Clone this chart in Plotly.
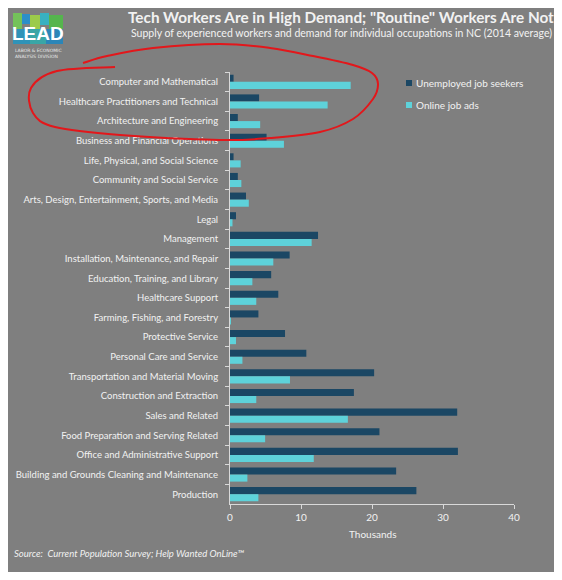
import plotly.graph_objects as go

# Occupation groups, top to bottom as shown in the chart
categories = [
    "Computer and Mathematical",
    "Healthcare Practitioners and Technical",
    "Architecture and Engineering",
    "Business and Financial Operations",
    "Life, Physical, and Social Science",
    "Community and Social Service",
    "Arts, Design, Entertainment, Sports, and Media",
    "Legal",
    "Management",
    "Installation, Maintenance, and Repair",
    "Education, Training, and Library",
    "Healthcare Support",
    "Farming, Fishing, and Forestry",
    "Protective Service",
    "Personal Care and Service",
    "Transportation and Material Moving",
    "Construction and Extraction",
    "Sales and Related",
    "Food Preparation and Serving Related",
    "Office and Administrative Support",
    "Building and Grounds Cleaning and Maintenance",
    "Production",
]

# Thousands (2014 average, NC)
unemployed_job_seekers = [
    0.5, 4.1, 1.1, 5.15, 0.5, 1.1, 2.25, 0.85, 12.4, 8.4, 5.8,
    6.8, 4.0, 7.75, 10.75, 20.3, 17.45, 32.0, 21.05, 32.1, 23.4, 26.25,
]
online_job_ads = [
    17.0, 13.75, 4.25, 7.6, 1.5, 1.6, 2.65, 0.35, 11.5, 6.1, 3.15,
    3.7, 0.05, 0.85, 1.75, 8.45, 3.7, 16.6, 4.95, 11.8, 2.45, 4.0,
]

x_ticks = [0, 10, 20, 30, 40]

DARK = "#1b4764"
LIGHT = "#5ed2da"
PANEL = "#7f7f7f"
TEXT = "#f2f2f2"
FONT = "Lato, 'Open Sans', sans-serif"

# =========================
# PIXEL -> PAPER HELPERS
# =========================
# The page body has an 8px margin, so the figure is a bit smaller than
# the window and every screen position below is given in window pixels.
OFF = 8
W, H = 546, 564
PLOT_X0, PLOT_X1 = 230, 514   # window px of x = 0 and x = 40
PLOT_Y0, PLOT_Y1 = 72, 504    # window px of plot top / bottom
M_L = PLOT_X0 - OFF
M_R = W - (PLOT_X1 - OFF)
M_T = PLOT_Y0 - OFF
M_B = H - (PLOT_Y1 - OFF)
PW = PLOT_X1 - PLOT_X0
PH = PLOT_Y1 - PLOT_Y0


def px(x):
    return (x - PLOT_X0) / PW


def py(y):
    return (PLOT_Y1 - y) / PH


def smooth_path(points):
    # Catmull-Rom through the points, written as cubic beziers
    pts = [(px(x), py(y)) for x, y in points]
    n = len(pts)
    path = f"M {pts[0][0]:.4f},{pts[0][1]:.4f}"
    for i in range(n - 1):
        p0 = pts[i - 1] if i > 0 else pts[i]
        p1 = pts[i]
        p2 = pts[i + 1]
        p3 = pts[i + 2] if i + 2 < n else p2
        c1 = (p1[0] + (p2[0] - p0[0]) / 6, p1[1] + (p2[1] - p0[1]) / 6)
        c2 = (p2[0] - (p3[0] - p1[0]) / 6, p2[1] - (p3[1] - p1[1]) / 6)
        path += (f" C {c1[0]:.4f},{c1[1]:.4f} {c2[0]:.4f},{c2[1]:.4f}"
                 f" {p2[0]:.4f},{p2[1]:.4f}")
    return path


fig = go.Figure()

fig.add_trace(go.Bar(
    y=categories,
    x=unemployed_job_seekers,
    orientation="h",
    name="Unemployed job seekers",
    marker=dict(color=DARK, line=dict(width=0)),
))

fig.add_trace(go.Bar(
    y=categories,
    x=online_job_ads,
    orientation="h",
    name="Online job ads",
    marker=dict(color=LIGHT, line=dict(width=0)),
))

shapes = []

# grey panel behind everything
shapes.append(dict(
    type="rect", xref="paper", yref="paper", layer="below",
    x0=px(6), x1=px(556), y0=py(5), y1=py(578),
    fillcolor=PANEL, line=dict(width=0),
))

# logo blocks
logo_blocks = [
    (13, 13, 22, 29, "#74c25a"),
    (22, 14, 30, 24, "#2b8fc9"),
    (30, 15, 40, 29, "#9ccb4a"),
    (40, 13, 49, 25, "#38b1c1"),
    (49, 15, 63, 29, "#55b54e"),
    (13, 29, 30, 44, "#2f93b8"),
    (30, 29, 46, 44, "#3aa6a6"),
    (46, 29, 63, 44, "#2b86b8"),
]
for x0, y0, x1, y1, c in logo_blocks:
    shapes.append(dict(
        type="rect", xref="paper", yref="paper", layer="below",
        x0=px(x0), x1=px(x1), y0=py(y0), y1=py(y1),
        fillcolor=c, line=dict(width=0),
    ))

# hand-drawn red loop round the tech occupations
loop_pts = [
    (83, 63), (107, 56), (153, 48), (220, 44), (270, 48), (313, 56),
    (353, 65), (372, 73), (378, 84), (373, 99), (353, 119), (320, 132),
    (270, 138), (220, 140), (120, 135), (55, 127), (33, 113), (31, 88),
    (57, 71), (115, 67),
]
shapes.append(dict(
    type="path", xref="paper", yref="paper",
    path=smooth_path(loop_pts),
    line=dict(color="#e3171b", width=2),
))

# legend keys drawn by hand so the swatch sits right next to the text
legend_items = [
    (fig.data[0].name, DARK, 83),
    (fig.data[1].name, LIGHT, 105),
]
annotations = []
for name, color, y in legend_items:
    shapes.append(dict(
        type="rect", xref="paper", yref="paper",
        x0=px(406), x1=px(412), y0=py(y - 3), y1=py(y + 3),
        fillcolor=color, line=dict(width=0),
    ))
    annotations.append(dict(
        text=name, x=px(414), y=py(y), xanchor="left", yanchor="middle",
        font=dict(size=10, color=TEXT, family=FONT),
    ))

annotations += [
    dict(text="<b>Tech Workers Are in High Demand; \"Routine\" Workers Are Not</b>",
         x=px(341), y=py(17), xanchor="center", yanchor="middle",
         font=dict(size=15.3, color=TEXT, family=FONT)),
    dict(text="Supply of experienced workers and demand for individual occupations in NC (2014 average)",
         x=px(341), y=py(33), xanchor="center", yanchor="middle",
         font=dict(size=10.5, color=TEXT, family=FONT)),
    dict(text="<b>LEAD</b>",
         x=px(38), y=py(34), xanchor="center", yanchor="middle",
         font=dict(size=19, color="white", family="'Liberation Sans', Arial, sans-serif")),
    dict(text="LABOR & ECONOMIC<br>ANALYSIS DIVISION",
         x=px(13), y=py(54), xanchor="left", yanchor="middle", align="left",
         font=dict(size=4.5, color="#e8e8e8", family="DejaVu Sans")),
    dict(text="Thousands",
         x=0.5, y=py(534), xanchor="center", yanchor="middle",
         font=dict(size=10, color=TEXT, family=FONT)),
    dict(text="<i>Source:  Current Population Survey; Help Wanted OnLine™</i>",
         x=px(12), y=py(553), xanchor="left", yanchor="middle",
         font=dict(size=9.5, color=TEXT, family=FONT)),
]
for a in annotations:
    a.update(xref="paper", yref="paper", showarrow=False)

fig.update_layout(
    width=W,
    height=H,
    margin=dict(l=M_L, r=M_R, t=M_T, b=M_B, autoexpand=False),
    paper_bgcolor="white",
    plot_bgcolor="rgba(0,0,0,0)",
    barmode="group",
    bargap=0.28,
    bargroupgap=0,
    font=dict(family=FONT, color=TEXT),
    showlegend=False,
    shapes=shapes,
    annotations=annotations,
)

fig.update_xaxes(
    range=[0, 40],
    tickvals=x_ticks,
    showgrid=False,
    zeroline=False,
    showline=True,
    linecolor="#d9d9d9",
    linewidth=1,
    ticks="outside",
    ticklen=4,
    tickcolor="#d9d9d9",
    tickfont=dict(size=10, color=TEXT, family=FONT),
)

fig.update_yaxes(
    autorange="reversed",
    showgrid=False,
    showline=True,
    linecolor="#d9d9d9",
    linewidth=1,
    ticks="outside",
    tickson="boundaries",
    ticklen=4,
    tickcolor="#d9d9d9",
    ticklabelstandoff=9,
    tickfont=dict(size=9.5, color=TEXT, family=FONT),
)

fig.write_html("out.html")
